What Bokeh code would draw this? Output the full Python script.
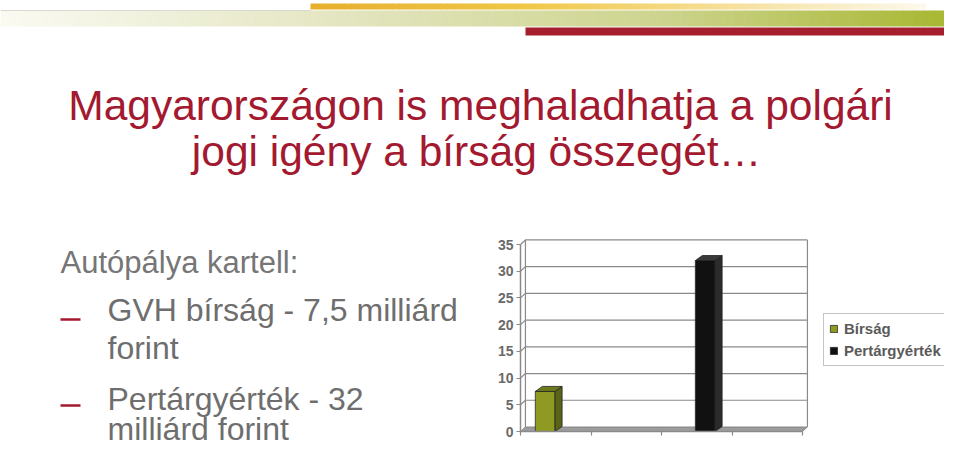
import numpy as np
from bokeh.plotting import figure
from bokeh.models import Range1d, FixedTicker, Legend, LegendItem, ColumnDataSource
from bokeh.core.properties import value
from bokeh.embed import file_html
from bokeh.resources import INLINE

# ---------------- data ----------------
title_lines = ["Magyarországon is meghaladhatja a polgári", "jogi igény a bírság összegét…"]
intro_text = "Autópálya kartell:"
bullet_1 = ["GVH bírság - 7,5 milliárd", "forint"]
bullet_2 = ["Pertárgyérték - 32", "milliárd forint"]

series = ["Bírság", "Pertárgyérték"]
values = [7.5, 32]
slots = [0, 2]                      # category slot (of 4) holding each bar
y_ticks = [0, 5, 10, 15, 20, 25, 30, 35]
x_ticks = [0, 1, 2, 3, 4]

# ---------------- style / layout ----------------
FONT = "Liberation Sans"
RED = "#A3192F"
GRAY_TXT = "#6E6E6E"
GRID = "#8A8A8A"
front_colors = ["#8E9A22", "#111111"]
side_colors = ["#5B6416", "#2B2B2B"]
top_colors = ["#6F7A1B", "#3A3A3A"]
bar_offsets = [0.35, 0.62]
bar_width = 0.28
DX, DY = 0.10, 0.94        # 3-D depth of bars (data units)
BDX, BDY = 0.07, 0.85      # 3-D depth of chart walls (data units)
TXT_SHIFT = 13             # renderer baseline correction (px)

W, H = 944, 450
FX0, FX1, FY0, FY1 = 520, 802, 431, 244   # chart area in page pixels

xmin, xmax = x_ticks[0], x_ticks[-1]
ymin, ymax = y_ticks[0], y_ticks[-1]
kx = (xmax - xmin) / (FX1 - FX0)
ky = (ymax - ymin) / (FY0 - FY1)

p = figure(width=W, height=H,
           x_range=Range1d(xmin - FX0 * kx, xmax + (W - FX1) * kx),
           y_range=Range1d(ymin - (H - FY0) * ky, ymax + FY1 * ky),
           output_backend="svg", toolbar_location=None, min_border=0)
p.extra_x_ranges = {"px": Range1d(0, W)}
p.extra_y_ranges = {"px": Range1d(H, 0)}
p.outline_line_color = None
p.grid.visible = False

# axes placed at the chart's origin
p.yaxis.fixed_location = xmin
p.xaxis.fixed_location = ymin
p.yaxis.bounds = (ymin, ymax)
p.xaxis.bounds = (xmin, xmax)
p.yaxis.ticker = FixedTicker(ticks=y_ticks)
p.xaxis.ticker = FixedTicker(ticks=x_ticks)
for ax in (p.xaxis, p.yaxis):
    ax.axis_line_color = GRID
    ax.axis_line_width = 1.5
    ax.major_tick_line_color = GRID
    ax.major_tick_line_width = 1.2
    ax.major_tick_in = 0
    ax.major_tick_out = 4
    ax.minor_tick_line_color = None
p.yaxis.major_label_text_font = FONT
p.yaxis.major_label_text_font_style = "bold"
p.yaxis.major_label_text_font_size = "14px"
p.yaxis.major_label_text_color = "#6A6A6A"
p.yaxis.major_label_standoff = 3
p.xaxis.major_label_overrides = {t: "" for t in x_ticks}

PX = dict(x_range_name="px", y_range_name="px")


# ---------------- decoration (gradient bands) ----------------
def hex2rgb(h):
    h = h.lstrip("#")
    return [int(h[i:i + 2], 16) for i in (0, 2, 4)]


def interp(stops, t):
    for (t0, c0), (t1, c1) in zip(stops[:-1], stops[1:]):
        if t0 <= t <= t1:
            a = (t - t0) / (t1 - t0) if t1 > t0 else 0
            r0, r1 = hex2rgb(c0), hex2rgb(c1)
            c = [round(r0[k] + (r1[k] - r0[k]) * a) for k in range(3)]
            return "#%02x%02x%02x" % tuple(c)
    return stops[-1][1]


def grad_band(x0, x1, y0, y1, stops, n=90):
    xs = np.linspace(x0, x1, n + 1)
    cols = [interp(stops, (i + 0.5) / n) for i in range(n)]
    p.quad(left=xs[:-1], right=xs[1:] + 0.6, top=y0, bottom=y1,
           fill_color=cols, line_color=None, **PX)


grad_band(0, W, 10, 26, [(0, "#FAFAF2"), (0.35, "#E4E6C2"), (0.7, "#CDD48E"), (1, "#A8B733")])
p.segment(x0=[0], y0=[10], x1=[310], y1=[10], line_color="#D9D9D2", line_width=1, **PX)
grad_band(310, 925, 3, 9, [(0, "#E7AF2E"), (0.35, "#F0C746"), (0.7, "#F6E1A0"), (1, "#FCF8EC")])
p.quad(left=[525], right=[W], top=[27], bottom=[35], fill_color="#A61F2F", line_color=None, **PX)


# ---------------- texts ----------------
def texts(xs, ys, txt, size, color, align="left"):
    p.text(x=xs, y=[y - TXT_SHIFT for y in ys], text=txt, text_font=value(FONT),
           text_font_size=size, text_color=color, text_align=align,
           text_baseline="alphabetic", **PX)


texts([480, 476], [118, 164], title_lines, "42.5px", RED, "center")
texts([60], [275], [intro_text], "31px", "#767676")
texts([107, 107, 107, 107], [322, 360, 411, 441], bullet_1 + bullet_2, "32px", GRAY_TXT)
p.segment(x0=[60, 60], y0=[319, 405], x1=[80, 80], y1=[319, 405],
          line_color=RED, line_width=2.7, **PX)

# ---------------- chart walls, floor, grid ----------------
p.patch(x=[xmin, xmax, xmax + BDX, xmin + BDX], y=[ymin, ymin, ymin + BDY, ymin + BDY],
        fill_color="#9C9C9C", line_color="#7A7A7A", line_width=0.8)
p.multi_line(xs=[[xmin, xmin + BDX, xmax + BDX] for _ in y_ticks[1:]],
             ys=[[t, t + BDY, t + BDY] for t in y_ticks[1:]],
             line_color=GRID, line_width=1.2)
p.multi_line(xs=[[xmin + BDX, xmin + BDX], [xmax + BDX, xmax + BDX]],
             ys=[[ymin + BDY, ymax + BDY], [ymin + BDY, ymax + BDY]],
             line_color=GRID, line_width=1.2)

# ---------------- bars ----------------
xc = [s + o for s, o in zip(slots, bar_offsets)]
items = []
for i, name in enumerate(series):
    v = values[i]
    x0, x1 = xc[i] - bar_width / 2, xc[i] + bar_width / 2
    src = ColumnDataSource(dict(x=[xc[i]], top=[v]))
    r = p.vbar(x="x", top="top", bottom=0, width=bar_width, source=src,
               fill_color=front_colors[i], line_color="#2A2A2A", line_width=0.8)
    p.patch(x=[x1, x1 + DX, x1 + DX, x1], y=[0, DY, v + DY, v],
            fill_color=side_colors[i], line_color="#222222", line_width=0.8)
    p.patch(x=[x0, x1, x1 + DX, x0 + DX], y=[v, v, v + DY, v + DY],
            fill_color=top_colors[i], line_color="#222222", line_width=0.8)
    items.append(LegendItem(label=name, renderers=[r]))

legend = Legend(items=items, location=(823, H - 366))
legend.margin = 0
legend.padding = 5
legend.spacing = 3
legend.glyph_width = 9
legend.glyph_height = 9
legend.label_height = 19
legend.label_standoff = 6
legend.label_text_font = FONT
legend.label_text_font_style = "bold"
legend.label_text_font_size = "15px"
legend.label_text_color = "#5A5A5A"
legend.border_line_color = GRID
legend.border_line_width = 1.5
legend.background_fill_color = "white"
p.add_layout(legend)

open("out.html", "w").write(file_html(p, INLINE))
